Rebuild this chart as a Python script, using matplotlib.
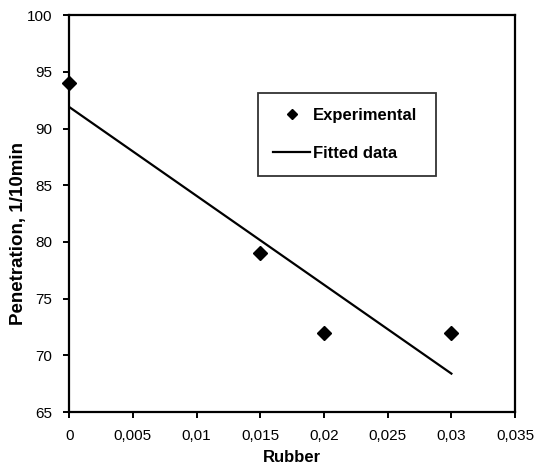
import numpy as np
import matplotlib.pyplot as plt
from matplotlib.ticker import FuncFormatter

plt.rcParams['font.family'] = ['Liberation Sans', 'DejaVu Sans']

# experimental points
rubber = [0.0, 0.015, 0.02, 0.03]
penetration = [94.0, 79.0, 72.0, 72.0]

# fitted line endpoints
fit_x = [0.0, 0.03]
fit_y = [91.9, 68.4]

fig = plt.figure(figsize=(5.36, 4.70), dpi=100)
ax = fig.add_axes([0.129, 0.123, 0.832, 0.845])

ax.plot(rubber, penetration, linestyle='none', marker='D', markersize=7,
        color='black', label='Experimental', clip_on=False, zorder=3)
ax.plot(fit_x, fit_y, color='black', linewidth=1.6, label='Fitted data')

ax.set_xlim(0, 0.035)
ax.set_ylim(65, 100)
ax.set_xticks(np.arange(0, 0.0351, 0.005))
ax.set_yticks(range(65, 101, 5))
ax.xaxis.set_major_formatter(FuncFormatter(
    lambda v, p: '0' if v == 0 else ('%g' % round(v, 3)).replace('.', ',')))

for s in ax.spines.values():
    s.set_linewidth(1.6)
ax.tick_params(labelsize=11, width=1.4, length=4, pad=8)

ax.set_xlabel('Rubber', fontsize=12, fontweight='bold', labelpad=5)
ax.set_ylabel('Penetration, 1/10min', fontsize=13.5, fontweight='bold')
ax.yaxis.set_label_coords(-0.095, 0.45)

leg = ax.legend(loc='center', bbox_to_anchor=(0.424, 0.592, 0.399, 0.214),
                mode='expand', frameon=True, fancybox=False,
                prop={'weight': 'bold', 'size': 12}, handlelength=2.2,
                labelspacing=1.4, borderpad=0.9, handletextpad=0.2,
                borderaxespad=0)
leg.get_frame().set_edgecolor('black')
leg.get_frame().set_linewidth(1.3)
leg.legend_handles[0].set_markersize(5)

fig.savefig('out.png', dpi=100)
